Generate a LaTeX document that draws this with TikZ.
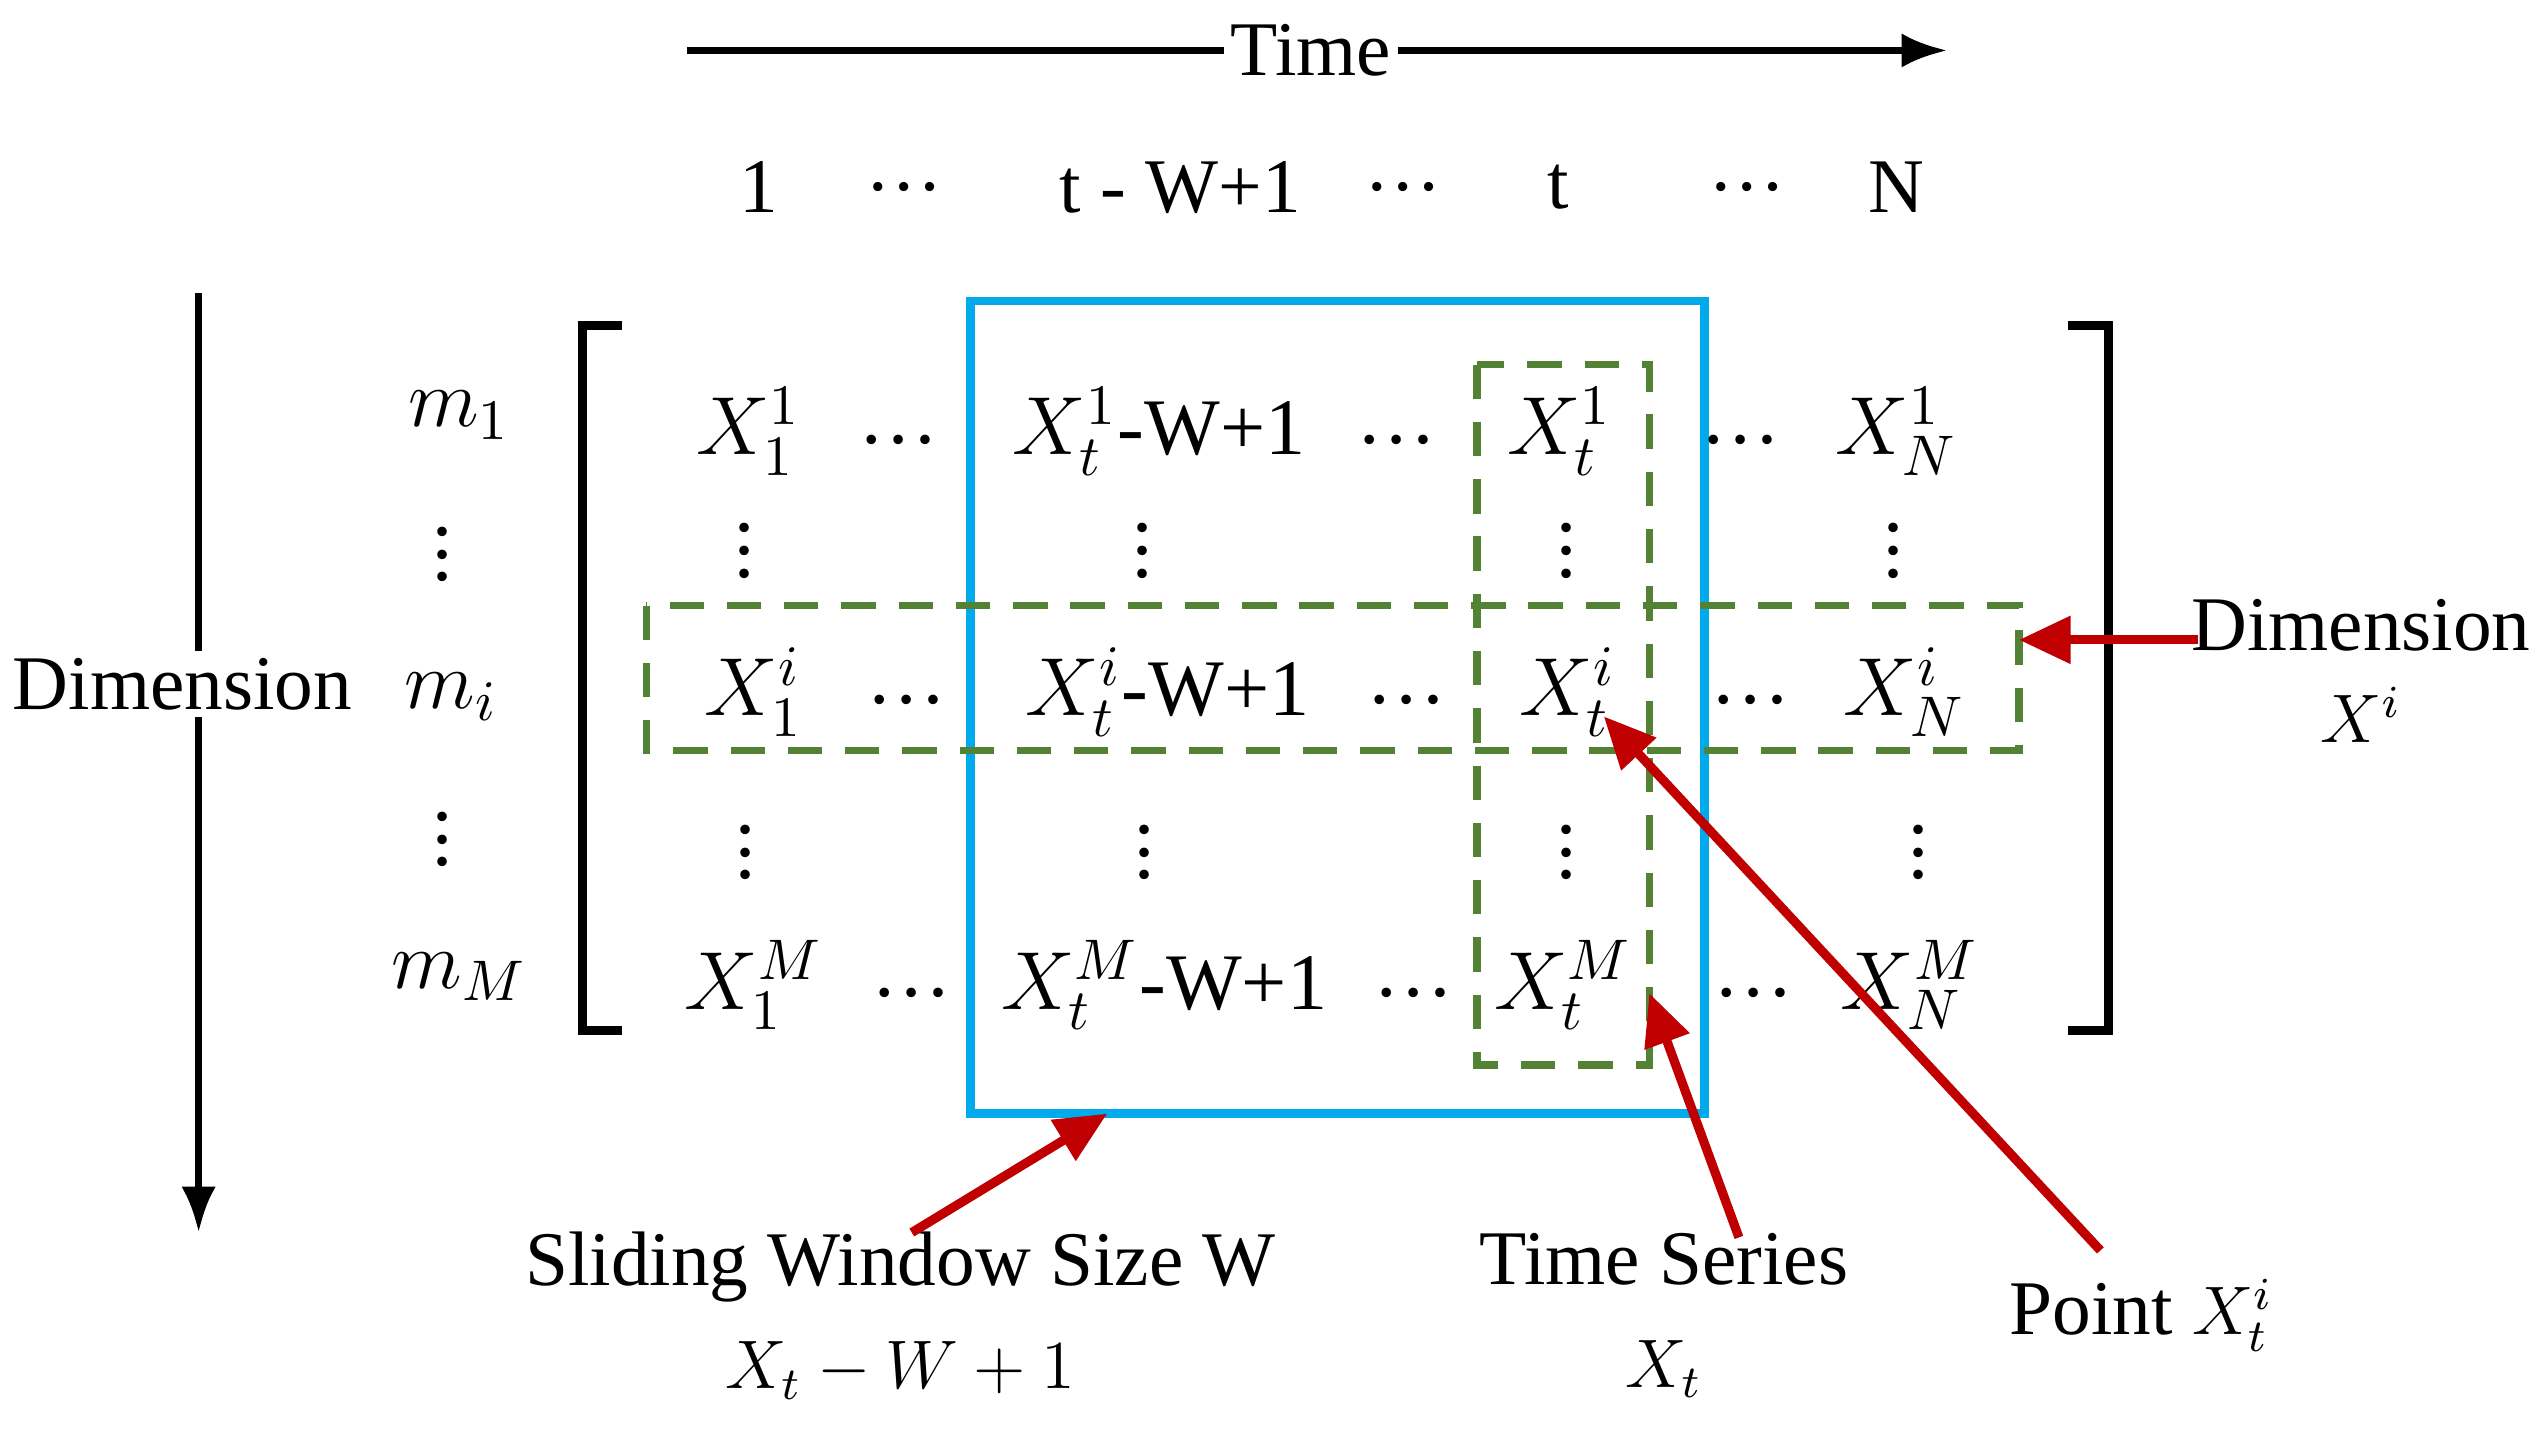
\documentclass[tikz,border=0pt]{standalone}
\usepackage{fontspec}
\setmainfont{Liberation Serif}
\usetikzlibrary{arrows.meta}
\begin{document}
\begin{tikzpicture}[x=0.01cm,y=-0.01cm,
  lbl/.style={font=\fontsize{13.5}{16}\selectfont,inner sep=1pt},
  ent/.style={font=\fontsize{14}{16}\selectfont,inner sep=1pt},
  redarr/.style={draw={rgb,255:red,192;green,0;blue,0},line width=1.6pt,-{Triangle[length=9pt,width=8pt]}},
  gbox/.style={draw={rgb,255:red,84;green,130;blue,53},line width=1.3pt,dash pattern=on 6pt off 4pt},
  brk/.style={line width=1.6pt}]
\useasboundingbox (0,0) rectangle (1560,880);
% time arrow
\node[lbl] (time) at (805,31) {Time};
\coordinate (ta) at (422,31); \coordinate (tb) at (1196,31);
\draw[line width=1.3pt] (ta) -- (time.west);
\draw[line width=1.3pt,-{Latex[length=8pt]}] (time.east) -- (tb);
% headers
\foreach \x/\t [count=\k] in {466/1,555/\dots,725/t - W+1,862/\dots,957/t,1073/\dots,1165/N}
  \node[lbl] (h\k) at (\x,115) {\t};
% dimension arrow
\node[lbl,fill=white] (dim) at (112,420) {Dimension};
\coordinate (da) at (122,180); \coordinate (db) at (122,757);
\draw[line width=1.3pt] (da) -- (dim.north -| da);
\draw[line width=1.3pt,-{Latex[length=8pt]}] (dim.south -| da) -- (db);
% row labels
\node[ent] (r1) at (282,255) {$m_1$};
\node[ent] (rd1) at (272,330) {$\vdots$};
\node[ent] (ri) at (277,428) {$m_i$};
\node[ent] (rd2) at (272,505) {$\vdots$};
\node[ent] (rM) at (282,600) {$m_M$};
% brackets
\draw[brk] (382,200) -- (358,200) -- (358,633) -- (382,633);
\draw[brk] (1270,200) -- (1295,200) -- (1295,633) -- (1270,633);
% boxes
\draw[draw={rgb,255:red,0;green,170;blue,235},line width=1.5pt] (596,185) rectangle (1047,684);
\coordinate (bb) at (680,684);
\draw[gbox] (397,372) rectangle (1240,461);
\draw[gbox] (907,224) rectangle (1013,654);
% entries
\node[ent] (a1) at (460,265) {$X^1_1$};
\node[ent] at (552,270) {\dots};
\node[ent] (a2) at (712,265) {$X^1_t$-W+1};
\node[ent] at (858,270) {\dots};
\node[ent] (a3) at (958,265) {$X^1_t$};
\node[ent] at (1069,270) {\dots};
\node[ent] (a4) at (1165,265) {$X^1_N$};
\foreach \x in {457,702,962,1163} \node[ent] at (\x,328) {$\vdots$};
\node[ent] (b1) at (463,425) {$X^i_1$};
\node[ent] at (557,430) {\dots};
\node[ent] (b2) at (717,425) {$X^i_t$-W+1};
\node[ent] at (864,430) {\dots};
\node[ent] (b3) at (963,425) {$X^i_t$};
\node[ent] at (1075,430) {\dots};
\node[ent] (b4) at (1170,425) {$X^i_N$};
\foreach \x in {458,703,962,1178} \node[ent] at (\x,513) {$\vdots$};
\node[ent] (c1) at (463,605) {$X^M_1$};
\node[ent] at (560,610) {\dots};
\node[ent] (c2) at (715,605) {$X^M_t$-W+1};
\node[ent] at (868,610) {\dots};
\node[ent] (c3) at (960,605) {$X^M_t$};
\node[ent] at (1077,610) {\dots};
\node[ent] (c4) at (1173,605) {$X^M_N$};
% bottom labels
\node[lbl,align=center] (sw) at (553,808) {Sliding Window Size W\\[2pt] {\large$X_t-W+1$}};
\node[lbl,align=center] (ts) at (1022,808) {Time Series\\[2pt] {\large$X_t$}};
\node[lbl] (pt) at (1315,808) {Point {\large$X^i_t$}};
\node[lbl,align=center] (dl) at (1450,412) {Dimension\\ {\large$X^i$}};
\coordinate (s1) at (560,757); \coordinate (t1) at (1068,760);
\coordinate (t2) at (1013,610); \coordinate (p1) at (1290,768);
\coordinate (p2) at (985,440); \coordinate (d1) at (1350,393); \coordinate (d2) at (1240,393);
\draw[redarr] (s1) -- (bb);
\draw[redarr] (t1) -- (t2);
\draw[redarr] (p1) -- (p2);
\draw[redarr] (d1) -- (d2);
\end{tikzpicture}
\end{document}
